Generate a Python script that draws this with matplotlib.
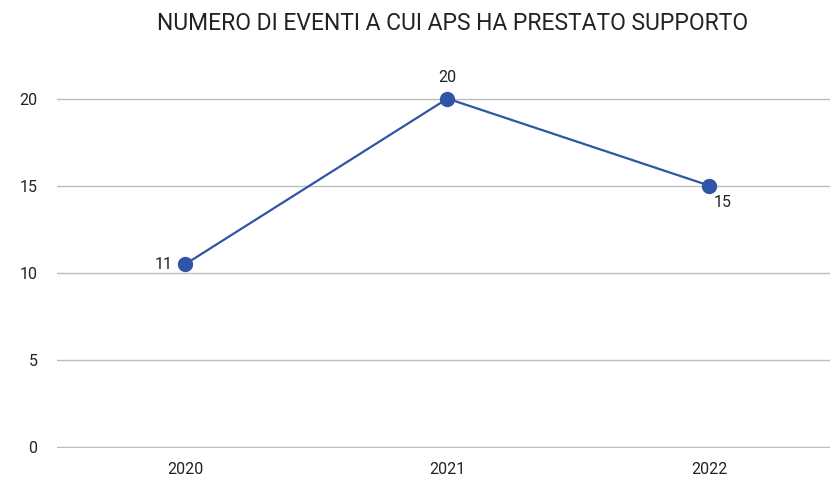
import matplotlib
matplotlib.use("Agg")
import matplotlib.pyplot as plt

years = ["2020", "2021", "2022"]
values = [10.5, 20, 15]
value_labels = ["11", "20", "15"]
yticks = [0, 5, 10, 15, 20]

plt.rcParams['font.family'] = ['Roboto', 'DejaVu Sans']

fig = plt.figure(figsize=(8.3, 4.92), dpi=100)
ax = fig.add_axes([0.0687, 0.0894, 0.9313, 0.781])

x = list(range(len(years)))
ax.plot(x, values, color="#2f55a8", linewidth=1.6, marker="o", markersize=10, zorder=3)

offsets = [(-9, 0, "right", "center"), (0, 10, "center", "bottom"), (3, -7, "left", "top")]
for xi, v, lab, (dx, dy, ha, va) in zip(x, values, value_labels, offsets):
    ax.annotate(lab, (xi, v), xytext=(dx, dy), textcoords="offset points",
                ha=ha, va=va, fontsize=11.5, color="#222222")

ax.set_xlim(-0.49, 2.46)
ax.set_ylim(-0.06, 22)
ax.set_xticks(x)
ax.set_xticklabels(years)
ax.set_yticks(yticks)
ax.yaxis.grid(True, color="#bdbdbd", linewidth=1)
ax.set_axisbelow(True)
for s in ax.spines.values():
    s.set_visible(False)
ax.tick_params(axis="both", length=0, labelsize=11.5, colors="#222222")
ax.tick_params(axis="x", pad=10)
ax.tick_params(axis="y", pad=14)

fig.text(0.545, 0.953, "NUMERO DI EVENTI A CUI APS HA PRESTATO SUPPORTO",
         ha="center", va="center", fontsize=16.5, color="#222222")

fig.savefig("out.png", dpi=100)
